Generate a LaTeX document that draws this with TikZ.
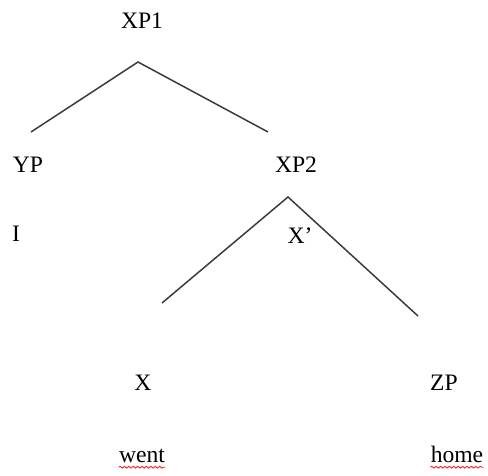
\documentclass[tikz,border=0pt]{standalone}
\usepackage{fontspec}
\setmainfont{Liberation Serif}
\usepackage{tikz}
\usetikzlibrary{decorations.pathmorphing}
\definecolor{branchline}{RGB}{60,60,60}
\definecolor{spellred}{RGB}{235,40,40}
\tikzset{
  label/.style={inner sep=0pt,anchor=base,font=\fontsize{11.8pt}{14pt}\selectfont},
  branch/.style={branchline,line width=0.75pt,line join=miter},
  spellmark/.style={spellred,line width=0.45pt,
    decorate,decoration={snake,amplitude=0.45pt,segment length=2.2pt}}
}

\begin{document}
\begin{tikzpicture}[x=0.5pt,y=-0.5pt]
  \useasboundingbox (0,0) rectangle (488,476);

  \node[label] (xp1) at (142,29) {XP1};
  \node[label] (yp) at (28,173) {YP};
  \node[label] (xp2) at (296,173) {XP2};
  \node[label] (pron) at (16,242) {I};
  \node[label] (xbar) at (300,243) {X’};
  \node[label] (xhead) at (143,390) {X};
  \node[label] (zp) at (444,390) {ZP};
  \node[label] (went) at (142,462) {went};
  \node[label] (home) at (457,462) {home};

  \coordinate (top1) at (138,62);
  \coordinate (left1) at (31,132);
  \coordinate (right1) at (268,132);
  \coordinate (top2) at (288,197);
  \coordinate (left2) at (162,303);
  \coordinate (right2) at (418,316);

  \draw[branch] (left1) -- (top1) -- (right1);
  \draw[branch] (left2) -- (top2) -- (right2);

  \draw[spellmark] ([yshift=-2.6pt]went.base west) -- ([yshift=-2.6pt]went.base east);
  \draw[spellmark] ([yshift=-2.6pt]home.base west) -- ([yshift=-2.6pt]home.base east);
\end{tikzpicture}
\end{document}
